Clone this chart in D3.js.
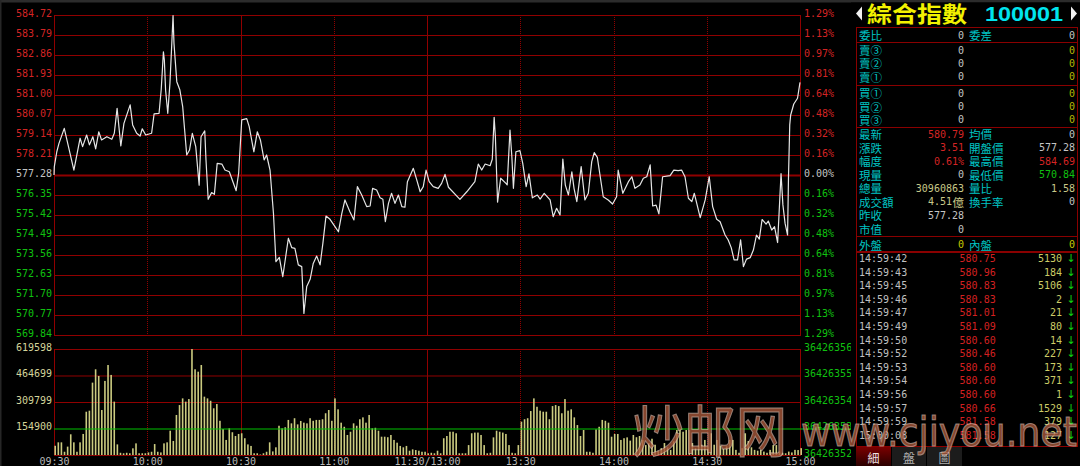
<!DOCTYPE html>
<html><head><meta charset="utf-8">
<script src="https://cdn.jsdelivr.net/npm/d3@7"></script>
<style>
html,body{margin:0;padding:0;background:#000;overflow:hidden}
svg{display:block}
</style></head><body>
<svg id="c" width="1080" height="466"></svg>
<script>
// ---------------- DATA ----------------
const priceTicks=[584.72,583.79,582.86,581.93,581.00,580.07,579.14,578.21,577.28,576.35,575.42,574.49,573.56,572.63,571.70,570.77,569.84];
const pctLabels=["1.29%","1.13%","0.97%","0.81%","0.64%","0.48%","0.32%","0.16%","0.00%","0.16%","0.32%","0.48%","0.64%","0.81%","0.97%","1.13%","1.29%"];
const prevClose=577.28;
const volTicks=[619598,464699,309799,154900];
const volRightTicks=[619598,464699,309799,154900,0];
const volRightLabels=["36426356","36426355","36426354","36426353","36426352"];
const timeTicks=[0,30,60,90,120,150,180,210,240];
const timeLabels=["09:30","10:00","10:30","11:00","11:30/13:00","13:30","14:00","14:30","15:00"];
const solidTimes=[60,120];
// minutes after 09:30 (trading minutes) and index value
const priceMinutes=[0,0.1,0.9,1.6,3.3,6.4,8.4,9.2,10.5,11.4,12.5,13.4,14.4,15.3,17.0,18.6,19.4,20.3,21.5,22.5,24.5,25.3,26.6,27.7,28.4,29.5,31.4,32.2,33.8,34.5,35.2,35.5,35.9,36.6,37.3,37.9,38.3,38.6,39.5,40.5,41.4,42.7,43.6,44.5,45.6,46.7,47.3,48.5,48.9,49.6,50.7,51.6,52.5,54.0,55.0,56.4,58.6,59.4,60.4,62.0,62.8,64.3,65.4,66.4,67.6,68.4,69.5,70.6,71.4,72.5,73.6,75.4,76.5,77.5,78.6,79.7,80.4,81.3,82.4,83.4,84.5,85.6,86.5,87.5,88.8,90.4,91.5,92.6,93.6,95.2,96.5,97.6,99.0,100.6,101.7,102.5,103.8,104.9,105.8,106.6,107.6,108.6,109.7,110.8,111.9,112.9,113.7,115.6,116.7,117.8,118.8,119.7,
120.7,122.0,123.6,124.7,125.8,126.9,130.6,132.8,135.4,136.5,137.6,138.7,140.3,141.0,141.6,142.0,142.7,143.7,145.4,145.8,146.7,147.3,147.8,148.6,149.9,150.8,151.9,152.8,153.9,155.5,156.4,157.7,159.6,160.6,161.7,162.8,163.7,164.5,165.5,166.6,167.3,168.2,169.6,170.8,171.9,173.0,173.8,174.8,176.7,178.3,179.7,181.0,181.5,183.0,184.8,185.9,186.9,188.5,189.6,190.7,191.8,192.6,193.7,194.6,195.8,198.2,199.4,200.8,201.9,203.0,204.1,205.2,206.0,207.9,209.5,210.8,211.9,213.2,214.3,215.9,216.9,217.9,218.8,219.9,220.9,221.8,222.8,224.0,225.0,226.0,226.9,227.8,229.1,229.8,230.9,231.8,232.8,233.9,234.5,235.2,236.0,236.3,236.7,237.0,238.0,239.2,240];
const priceValues=[577.28,577.67,578.36,578.75,579.45,577.51,578.99,578.60,579.14,578.68,579.06,578.49,579.29,578.91,579.06,578.94,579.22,580.38,578.63,579.68,580.54,579.61,579.22,579.09,579.43,579.14,579.22,580.12,580.15,581.27,583.01,582.63,581.23,580.15,581.54,583.40,584.69,583.40,581.62,581.23,580.46,578.21,578.44,579.22,578.60,576.81,579.06,579.33,577.98,576.15,576.46,576.38,577.82,577.79,577.51,577.43,576.55,577.36,579.84,579.90,579.53,578.36,579.29,578.91,577.98,578.21,577.51,575.50,573.25,573.45,572.55,574.34,573.90,573.87,573.10,573.02,570.84,572.09,572.43,573.17,573.51,573.10,574.10,575.37,575.22,574.88,574.64,575.50,576.12,575.57,575.19,576.74,576.35,575.81,575.84,576.66,576.58,576.22,576.15,575.11,575.96,576.43,575.96,576.35,575.81,575.78,576.97,577.59,577.05,576.50,576.74,577.51,
576.97,576.74,576.66,576.89,577.31,576.71,576.15,576.50,576.97,577.79,577.51,577.79,577.71,578.01,579.96,579.06,576.02,577.13,576.89,576.82,579.37,578.13,576.66,578.36,578.41,577.82,576.74,577.33,576.22,576.35,576.16,576.43,576.12,575.34,575.73,575.42,578.02,576.81,576.35,577.43,576.66,576.04,577.67,576.12,576.43,577.90,578.32,578.10,576.27,576.12,575.93,576.27,577.51,576.43,576.97,577.20,576.66,576.81,577.13,577.20,577.75,575.84,575.88,575.47,577.20,577.25,577.51,577.48,577.51,577.20,576.20,576.04,576.43,575.30,576.12,577.20,575.81,575.22,575.11,574.49,574.26,573.89,573.33,573.33,574.26,573.02,573.37,573.44,573.79,574.49,574.30,575.21,575.00,575.14,574.72,574.88,574.14,577.34,575.89,575.03,574.49,577.20,579.61,580.07,580.58,580.85,581.59];
// per-minute volume, minute 0..240
const volumes=[54000,74000,74000,19000,49000,121000,74000,19000,74000,123000,
253000,259000,423000,501000,462000,263000,433000,526000,468000,312000,
62000,13000,10000,13000,10000,39000,68000,10000,10000,10000,
15000,19000,64000,19000,15000,68000,74000,142000,82000,234000,
292000,331000,312000,327000,619598,501000,487000,526000,341000,331000,
317000,273000,298000,200000,152000,88000,156000,133000,111000,123000,
127000,98000,62000,53000,10000,10000,3000,10000,19000,74000,
21000,45000,171000,156000,162000,205000,185000,215000,179000,199000,
189000,185000,215000,200000,205000,205000,209000,244000,263000,200000,
331000,267000,189000,165000,117000,136000,185000,171000,209000,220000,
189000,234000,156000,159000,142000,107000,107000,104000,117000,88000,
72000,53000,45000,53000,25000,33000,29000,25000,19000,19000,
10000,13000,10000,25000,10000,98000,111000,136000,136000,127000,
10000,10000,10000,58000,127000,131000,131000,117000,58000,10000,
13000,103000,142000,136000,131000,123000,58000,13000,10000,58000,
195000,209000,215000,257000,331000,282000,259000,253000,253000,209000,
286000,292000,286000,244000,327000,259000,267000,220000,175000,111000,
146000,19000,19000,13000,150000,165000,205000,200000,189000,107000,
123000,123000,88000,98000,103000,84000,117000,104000,111000,88000,
58000,70000,95000,60000,25000,40000,70000,45000,30000,80000,
146000,146000,136000,146000,146000,70000,40000,55000,60000,88000,
50000,127000,60000,88000,55000,35000,50000,88000,88000,30000,
13000,40000,127000,82000,45000,30000,25000,30000,20000,13000,
30000,58000,58000,20000,13000,10000,20000,15000,30000,29000,40000];

// right-hand quote panel
const title="綜合指數", code="100001";
const ratioRow=["委比","0","委差","0"];
const sellRows=[["賣③","0","0"],["賣②","0","0"],["賣①","0","0"]];
const buyRows=[["買①","0","0"],["買②","0","0"],["買③","0","0"]];
const statLabels1=["最新","漲跌","幅度","現量","總量","成交額","昨收","市值"];
const statValues1=["580.79","3.51","0.61%","0","30960863","4.51億","577.28","0"];
const statLabels2=["均價","開盤價","最高價","最低價","量比","換手率","",""];
const statValues2=["0","577.28","584.69","570.84","1.58","0","",""];
const outerInner=["外盤","0","內盤","0"];
const tickTimes=["14:59:42","14:59:43","14:59:45","14:59:46","14:59:47","14:59:49","14:59:50","14:59:52","14:59:53","14:59:54","14:59:56","14:59:57","14:59:59","15:00:08"];
const tickPrices=["580.75","580.96","580.83","580.83","581.01","581.09","580.60","580.46","580.60","580.60","580.60","580.66","581.58","581.58"];
const tickVols=["5130","184","5106","2","21","80","14","227","173","371","1","1529","379","127"];
const tabs=["細","盤","圖"];

// ---------------- STYLE ----------------
const RED="#d42424", GREEN="#10b010", GREY="#c4c4c4", GRID="#900000", YEL="#c8c850";
const MONO="'DejaVu Sans Mono', 'Liberation Mono', monospace";
const CJK="'Noto Sans CJK TC','Noto Sans CJK SC',sans-serif";
const X0=54, X1=800, PT=15, PB=335, VT=349, VB=455;

const svg=d3.select("#c");
svg.append("rect").attr("width",1080).attr("height",466).attr("fill","#000");
svg.append("rect").attr("width",1080).attr("height",2.5).attr("fill","#2c2c2c");
svg.append("rect").attr("width",1.5).attr("height",466).attr("fill","#262626");

const x=d3.scaleLinear().domain([0,240]).range([X0,X1]);
const yP=d3.scaleLinear().domain([priceTicks[priceTicks.length-1],priceTicks[0]]).range([PB,PT]);
const yV=d3.scaleLinear().domain([0,volTicks[0]]).range([VB,VT]);

// ---- grids
const grid=svg.append("g");
grid.selectAll("line.hp").data(priceTicks).join("line")
  .attr("x1",X0).attr("x2",X1).attr("y1",d=>yP(d)+0.5).attr("y2",d=>yP(d)+0.5)
  .attr("stroke",GRID).attr("stroke-width",d=>d===prevClose?2:1);
grid.selectAll("line.hv").data(volRightTicks.filter(d=>d!==volTicks[3])).join("line")
  .attr("x1",X0).attr("x2",X1).attr("y1",d=>yV(d)+0.5).attr("y2",d=>yV(d)+0.5)
  .attr("stroke",GRID);
[[PT,PB],[VT,VB]].forEach(([a,b])=>{
  grid.append("g").selectAll("line").data(timeTicks).join("line")
    .attr("x1",d=>Math.round(x(d))+0.5).attr("x2",d=>Math.round(x(d))+0.5)
    .attr("y1",a).attr("y2",b+1)
    .attr("stroke",GRID)
    .attr("stroke-dasharray",d=>(d===0||d===240||solidTimes.includes(d))?null:"1,1");
});

// ---- volume bars
svg.append("g").selectAll("rect").data(volumes).join("rect")
  .attr("x",(d,i)=>x(i)+0.4).attr("width",1.6)
  .attr("y",d=>yV(d)).attr("height",d=>VB-yV(d))
  .attr("fill","#cbcb80");
// reference volume line
svg.append("line").attr("x1",X0).attr("x2",851).attr("y1",yV(volTicks[3])+0.5).attr("y2",yV(volTicks[3])+0.5)
  .attr("stroke","#00c000").attr("stroke-width",1.2);

// ---- price line
const pts=priceMinutes.map((m,i)=>[m,priceValues[i]]);
svg.append("path").datum(pts)
  .attr("d",d3.line().x(d=>x(d[0])).y(d=>yP(d[1])))
  .attr("fill","none").attr("stroke","#e6e6e6").attr("stroke-width",1.2).attr("stroke-linejoin","round");

// ---- axes
function styleAxis(g,colorFn,dy){
  g.attr("font-family",MONO).attr("font-size",10);
  g.select(".domain").remove();
  g.selectAll(".tick line").remove();
  g.selectAll("text").attr("fill",colorFn).attr("dy",dy);
}
const pColor=d=>d>prevClose?RED:(d<prevClose?"#10c010":GREY);
svg.append("g").attr("transform",`translate(${X0},0)`)
  .call(d3.axisLeft(yP).tickValues(priceTicks).tickFormat(d3.format(".2f")).tickSize(0).tickPadding(2))
  .call(g=>styleAxis(g,pColor,"0.1em"));
svg.append("g").attr("transform",`translate(${X1},0)`)
  .call(d3.axisRight(yP).tickValues(priceTicks).tickFormat((d,i)=>pctLabels[i]).tickSize(0).tickPadding(4))
  .call(g=>styleAxis(g,pColor,"0.1em"));
svg.append("g").attr("transform",`translate(${X0},0)`)
  .call(d3.axisLeft(yV).tickValues(volTicks).tickFormat(d3.format("d")).tickSize(0).tickPadding(2))
  .call(g=>styleAxis(g,"#d4d49a","0.1em"));
svg.append("g").attr("transform",`translate(${X1},0)`)
  .call(d3.axisRight(yV).tickValues(volRightTicks).tickFormat((d,i)=>volRightLabels[i]).tickSize(0).tickPadding(4))
  .call(g=>styleAxis(g,"#10c010","0.1em"));
svg.append("g").attr("transform",`translate(0,${VB})`)
  .call(d3.axisBottom(x).tickValues(timeTicks).tickFormat((d,i)=>timeLabels[i]).tickSize(0).tickPadding(2.4))
  .call(g=>styleAxis(g,"#b8b8b8","0.71em"));

// ---------------- RIGHT PANEL ----------------
const P=svg.append("g");
P.append("rect").attr("x",851).attr("y",2.5).attr("width",229).attr("height",463.5).attr("fill","#000");
function t(x,y,s,fill,o={}){
  const e=P.append("text").attr("x",x).attr("y",y).text(s).attr("fill",fill)
    .attr("font-family",o.font||MONO).attr("font-size",o.size||10)
    .attr("text-anchor",o.anchor||"start").attr("dominant-baseline",o.base||"central");
  if(o.weight) e.attr("font-weight",o.weight);
  if(o.len) e.attr("textLength",o.len).attr("lengthAdjust","spacingAndGlyphs");
  return e;
}
// title
P.append("path").attr("d","M856,13.5L862,6.5L862,20.5Z").attr("fill","#f0f0f0");
P.append("path").attr("d","M1077,13.5L1071,6.5L1071,20.5Z").attr("fill","#f0f0f0");
t(867,22,title,"#f2f200",{font:CJK,size:22,weight:"bold",base:"auto",len:100});
t(985,21,code,"#00e4ee",{font:"'Liberation Sans',Arial,sans-serif",size:21,weight:"bold",base:"auto",len:78});
// boxes
const BL=856.5, BR=1077.5;
[[27.5,42.5],[42.5,85.5],[85.5,127.5],[127.5,236.5],[236.5,251.5],[252.5,446.5]].forEach(([a,b])=>{
  P.append("rect").attr("x",BL).attr("y",a).attr("width",BR-BL).attr("height",b-a)
   .attr("fill","none").attr("stroke","#8a0000");
});
const LAB="#00c4c4", LX=859, V1=964, L2=969, V2=1075;
const lab=(x,y,s)=>t(x,y,s,LAB,{font:CJK,size:11.5});
lab(LX,35,ratioRow[0]); t(V1,35,ratioRow[1],GREY,{anchor:"end"});
lab(L2,35,ratioRow[2]); t(V2,35,ratioRow[3],GREY,{anchor:"end"});
sellRows.forEach((r,i)=>{const y=50+i*13.3; lab(LX,y,r[0]); t(V1,y,r[1],GREY,{anchor:"end"}); t(V2,y,r[2],"#b8b800",{anchor:"end"});});
buyRows.forEach((r,i)=>{const y=93.3+i*13.3; lab(LX,y,r[0]); t(V1,y,r[1],GREY,{anchor:"end"}); t(V2,y,r[2],"#b8b800",{anchor:"end"});});
const c1=[RED,RED,RED,GREY,"#c8c888","#c8c888",GREY,GREY];
const c2=[GREY,GREY,RED,"#10c010","#c8c888",GREY,GREY,GREY];
statLabels1.forEach((s,i)=>{
  const y=134.3+i*13.53;
  lab(LX,y,s);
  if(statValues1[i].endsWith("億")){
    t(V1-12,y,statValues1[i].slice(0,-1),c1[i],{anchor:"end"});
    t(V1,y,"億",c1[i],{anchor:"end",font:CJK,size:11.5});
  } else t(V1,y,statValues1[i],c1[i],{anchor:"end"});
  if(statLabels2[i]){ lab(L2,y,statLabels2[i]); t(V2,y,statValues2[i],c2[i],{anchor:"end"}); }
});
lab(LX,244.5,outerInner[0]); t(V1,244.5,outerInner[1],"#c8c800",{anchor:"end"});
lab(L2,244.5,outerInner[2]); t(V2,244.5,outerInner[3],"#c8c800",{anchor:"end"});
tickTimes.forEach((s,i)=>{
  const y=258.4+i*13.6;
  t(LX,y,s,"#c0c0c0");
  t(995.7,y,tickPrices[i],"#d42020",{anchor:"end"});
  t(1062,y,tickVols[i],"#cccc66",{anchor:"end"});
  t(1071,y,"↓","#10d010",{anchor:"middle",font:"'DejaVu Sans',sans-serif",size:11});
});
// tabs
const defs=svg.append("defs");
const gr=defs.append("linearGradient").attr("id","tabg").attr("x1",0).attr("y1",0).attr("x2",0).attr("y2",1);
gr.append("stop").attr("offset","0").attr("stop-color","#7a0000");
gr.append("stop").attr("offset","1").attr("stop-color","#2a0000");
P.append("rect").attr("x",856).attr("y",447).attr("width",35).attr("height",19).attr("fill","url(#tabg)");
P.append("rect").attr("x",892).attr("y",447).attr("width",34).attr("height",19).attr("fill","#1c1c1c");
P.append("rect").attr("x",927).attr("y",447).attr("width",35).attr("height",19).attr("fill","#1c1c1c");
tabs.forEach((s,i)=>t([873.5,909,944.5][i],457,s,i===0?"#f0e0e0":"#b0b0b0",{font:CJK,size:12,anchor:"middle"}));

// ---- watermark
const W=svg.append("g").attr("opacity",0.8);
W.append("text").attr("x",633).attr("y",452).text("炒邮网")
  .attr("font-family",CJK).attr("font-size",56).attr("textLength",154).attr("lengthAdjust","spacingAndGlyphs")
  .attr("fill","#a8583a").attr("stroke","#e8d0c4").attr("stroke-width",1).attr("stroke-opacity",0.7);
W.append("text").attr("x",801).attr("y",446).text("www.cjiyou.net")
  .attr("font-family","'DejaVu Sans',sans-serif").attr("font-size",40).attr("textLength",276).attr("lengthAdjust","spacingAndGlyphs")
  .attr("fill","#a8583a").attr("stroke","#e8d0c4").attr("stroke-width",1).attr("stroke-opacity",0.7);
</script>
</body></html>
